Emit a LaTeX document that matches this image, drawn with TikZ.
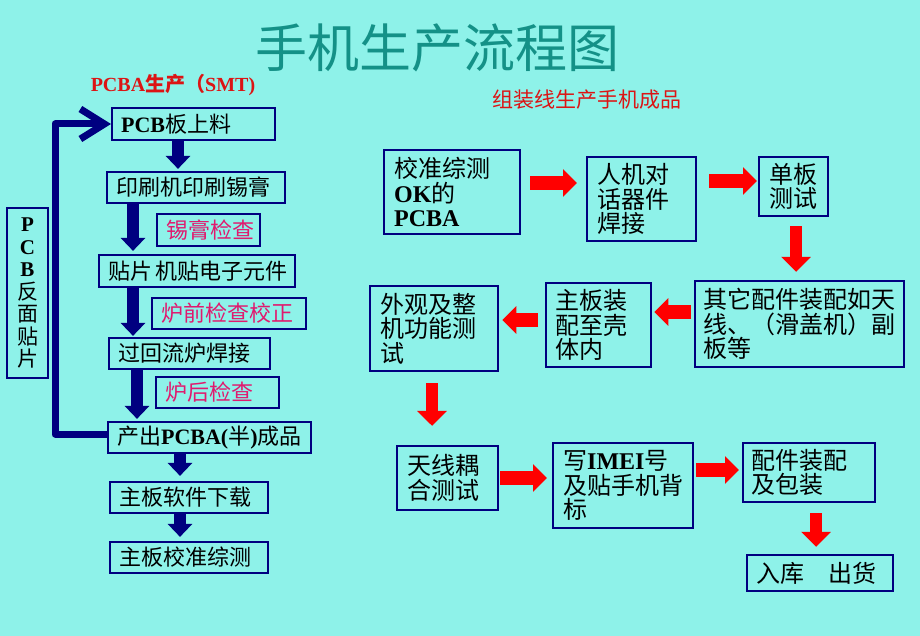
\documentclass[tikz,border=0pt]{standalone}
\usepackage{fontspec}
\setmainfont{Noto Sans CJK SC}
\newfontfamily\tmsfont{Liberation Serif}
\newcommand\tms[1]{{\tmsfont\bfseries #1}}
\usetikzlibrary{arrows.meta}
\definecolor{bgc}{RGB}{142,242,233}
\definecolor{navyc}{RGB}{0,0,128}
\definecolor{titlec}{RGB}{20,145,135}
\definecolor{pinkc}{RGB}{225,25,110}
\definecolor{hdrred}{RGB}{220,20,20}
\begin{document}
\begin{tikzpicture}[x=1pt,y=-1pt,
  lbox/.style={draw=navyc, line width=2.2pt, anchor=west, inner xsep=9pt, inner ysep=0pt,
    align=left, font=\fontsize{22}{24}\selectfont},
  chk/.style={lbox, text=pinkc},
  rbox/.style={draw=navyc, line width=2.4pt, anchor=west, inner xsep=10pt, inner ysep=0pt,
    align=left, font=\fontsize{24}{24.5}\selectfont},
  navarr/.style={draw=navyc, line width=12pt, -{Triangle[width=24pt,length=13pt]}},
  redh/.style={draw=red, line width=14pt, -{Triangle[width=27pt,length=14pt]}},
  redv/.style={draw=red, line width=12pt, -{Triangle[width=29pt,length=15pt]}},
  loopline/.style={draw=navyc, line width=7pt, line join=round, -{Straight Barb[length=24pt,width=30pt]}}
]
\useasboundingbox (0,0) rectangle (920,636);
\fill[bgc] (0,0) rectangle (920,636);

% headers
\node[font=\fontsize{52}{60}\selectfont, text=titlec] (title) at (437.5,48) {手机生产流程图};
\node[font=\fontsize{20}{24}\selectfont\bfseries, text=hdrred] (h1) at (173,85) {\tms{PCBA}生产（\tms{SMT)}};
\node[font=\fontsize{21}{24}\selectfont, text=hdrred] (h2) at (587,100) {组装线生产手机成品};

% left column
\node[lbox, text width=145pt, minimum height=32pt] (n1) at (111,124) {\tms{PCB}板上料};
\node[lbox, text width=160pt, minimum height=31pt] (n2) at (106,187.5) {印刷机印刷锡膏};
\node[chk, text width=85pt, minimum height=32pt] (c1) at (156,230) {锡膏检查};
\node[lbox, text width=178pt, minimum height=32pt] (n3) at (98,271) {\mbox{贴片\kern3pt 机贴电子元件}};
\node[chk, text width=136pt, minimum height=31pt] (c2) at (151,313.5) {炉前检查校正};
\node[lbox, text width=143pt, minimum height=31pt] (n4) at (108,353.5) {过回流炉焊接};
\node[chk, text width=105pt, minimum height=31pt] (c3) at (155,392.5) {炉后检查};
\node[lbox, text width=185pt, minimum height=31pt] (n5) at (107,437.5) {产出\tms{PCBA(}半\tms{)}成品};
\node[lbox, text width=140pt, minimum height=31pt] (n6) at (109,497.5) {主板软件下载};
\node[lbox, text width=140pt, minimum height=31pt] (n7) at (109,557.5) {主板校准综测};
\node[draw=navyc, line width=2.2pt, inner sep=0pt, minimum width=41pt, minimum height=170pt,
  text width=41pt, align=center, font=\fontsize{21}{22.5}\selectfont] (side) at (27.5,293)
  {\tms{P}\\\tms{C}\\\tms{B}\\反\\面\\贴\\片};

\coordinate (ax1) at (178,0);
\coordinate (ax2) at (133,0);
\coordinate (ax3) at (137,0);
\coordinate (ax4) at (180,0);
\draw[navarr, shorten >=2pt] (n1.south -| ax1) -- (n2.north -| ax1);
\draw[navarr, shorten >=3pt] (n2.south -| ax2) -- (n3.north -| ax2);
\draw[navarr, shorten >=1pt] (n3.south -| ax2) -- (n4.north -| ax2);
\draw[navarr, shorten >=2pt] (n4.south -| ax3) -- (n5.north -| ax3);
\draw[navarr, shorten >=5pt] (n5.south -| ax4) -- (n6.north -| ax4);
\draw[navarr, shorten >=4pt] (n6.south -| ax4) -- (n7.north -| ax4);

\coordinate (lp) at (55,434);
\draw[loopline] (n5.west |- lp) -- (lp) |- (n1.west);

% right part
\node[rbox, text width=116pt, minimum height=84pt] (r1) at (383,192) {校准综测\\\tms{OK}的\\\tms{PCBA}};
\node[rbox, text width=89pt, minimum height=84pt] (r2) at (586,199) {人机对\\话器件\\焊接};
\node[rbox, text width=49pt, minimum height=59pt] (r3) at (758,186.5) {单板\\测试};
\node[rbox, inner xsep=8pt, text width=193pt, minimum height=86pt] (r4) at (694,324) {其它配件装配如天\\线、（滑盖机）副\\板等};
\node[rbox, inner xsep=9pt, text width=87pt, minimum height=84pt] (r5) at (545,325) {主板装\\配至壳\\体内};
\node[rbox, text width=108pt, minimum height=85pt] (r6) at (369,328.5) {外观及整\\机功能测\\试};
\node[rbox, text width=81pt, minimum height=64pt] (r7) at (396,478) {天线耦\\合测试};
\node[rbox, text width=120pt, minimum height=85pt] (r8) at (552,485.5) {写\tms{IMEI}号\\及贴手机背\\标};
\node[rbox, inner xsep=8pt, text width=116pt, minimum height=59pt] (r9) at (742,472.5) {配件装配\\及包装};
\node[rbox, inner xsep=9pt, text width=128pt, minimum height=36pt] (r10) at (746,573) {入库\quad 出货};

\coordinate (y1) at (0,183);
\coordinate (y2) at (0,181);
\coordinate (y4) at (0,312);
\coordinate (y5) at (0,320);
\coordinate (y7) at (0,478);
\coordinate (y8) at (0,470);
\coordinate (x3) at (796,0);
\coordinate (x6) at (432,0);
\coordinate (x9) at (816,0);
\draw[redh, shorten <=9pt, shorten >=9pt] (r1.east |- y1) -- (r2.west |- y1);
\draw[redh, shorten <=12pt, shorten >=1pt] (r2.east |- y2) -- (r3.west |- y2);
\draw[redv, shorten <=9pt, shorten >=8pt] (r3.south -| x3) -- (r4.north -| x3);
\draw[redh, shorten <=3pt, shorten >=2pt] (r4.west |- y4) -- (r5.east |- y4);
\draw[redh, shorten <=7pt, shorten >=3pt] (r5.west |- y5) -- (r6.east |- y5);
\draw[redv, shorten <=11pt, shorten >=19pt] (r6.south -| x6) -- (r7.north -| x6);
\draw[redh, shorten <=1pt, shorten >=5pt] (r7.east |- y7) -- (r8.west |- y7);
\draw[redh, shorten <=2pt, shorten >=3pt] (r8.east |- y8) -- (r9.west |- y8);
\draw[redv, shorten <=10pt, shorten >=7pt] (r9.south -| x9) -- (r10.north -| x9);
\end{tikzpicture}
\end{document}
